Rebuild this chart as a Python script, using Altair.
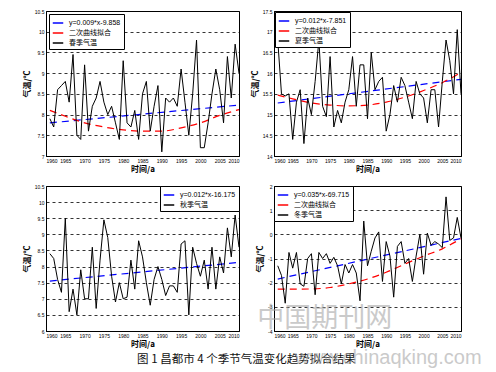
import altair as alt
import pandas as pd

FONT = "Liberation Sans, Noto Sans CJK SC, sans-serif"
CJK = "Noto Sans CJK SC, sans-serif"

years = list(range(1961, 2011))
x_ticks = list(range(1960, 2011, 5))

spring = [7.9, 7.7, 8.6, 8.7, 8.8, 8.3, 9.45, 7.5, 7.4, 9.2,
          7.6, 8.2, 8.4, 8.8, 8.3, 8.0, 8.2, 7.8, 7.4, 9.3,
          7.8, 7.7, 8.1, 7.4, 8.5, 8.8, 7.6, 8.2, 8.7, 7.1,
          8.4, 8.3, 8.4, 8.2, 9.1, 8.3, 7.5, 8.5, 9.8, 7.2,
          7.2, 7.8, 8.5, 9.1, 8.6, 7.8, 9.4, 8.4, 9.7, 9.0]
summer = [16.8, 15.5, 15.45, 15.5, 14.4, 15.3, 15.6, 14.3, 15.4, 15.0,
          15.8, 16.8, 15.2, 14.95, 16.4, 14.7, 15.1, 14.8, 15.3, 15.6,
          16.4, 15.2, 16.2, 16.2, 14.9, 16.5, 15.6, 15.8, 15.9, 14.6,
          15.0, 15.7, 15.3, 15.9, 15.7, 15.3, 14.9, 15.8, 15.5, 15.4,
          14.8, 15.6, 15.6, 14.7, 15.8, 16.8, 16.3, 15.5, 17.05, 15.5]
autumn = [8.4, 8.25, 7.6, 7.2, 9.5, 6.6, 7.3, 6.5, 7.9, 7.0,
          7.0, 8.6, 6.7, 8.2, 9.45, 8.9, 7.7, 6.9, 7.5, 7.0,
          7.05, 8.2, 7.3, 8.8, 8.3, 7.5, 6.8, 7.6, 8.0, 7.6,
          7.1, 7.4, 7.4, 7.2, 8.7, 8.8, 6.5, 8.6, 8.1, 7.7,
          8.2, 7.3, 8.6, 7.3, 8.3, 7.8, 9.2, 8.3, 9.6, 8.6]
winter = [-1.3, -1.7, -2.85, -0.75, -1.4, -0.75, -2.05, -2.15, -1.0, -0.8,
          -2.5, -0.75, -1.0, -0.8, -1.2, -0.95, -1.3, -2.05, -1.25, -1.6,
          -1.25, -1.6, -2.75, 0.55, -1.3, -0.7, -0.15, 0.1, -1.95, -0.3,
          -0.9, -2.6, -0.5, -0.3, -1.2, -1.0, -1.95, -0.9, 0.0, -1.65,
          0.05, -0.45, -0.3, -0.4, -0.55, 1.55, -0.25, -0.15, 0.7, -0.15]

trend_years = [1961, 2010]
spring_trend = [7.80, 8.23]
summer_trend = [15.28, 15.85]
autumn_trend = [7.55, 8.13]
winter_trend = [-1.85, -0.17]

quad_years = [1961, 1965, 1970, 1975, 1980, 1985, 1990, 1995, 2000, 2005, 2010]
spring_quad = [8.10, 7.96, 7.80, 7.70, 7.63, 7.60, 7.60, 7.68, 7.80, 7.98, 8.12]
summer_quad = [15.47, 15.38, 15.28, 15.23, 15.21, 15.23, 15.30, 15.42, 15.58, 15.77, 16.02]
winter_quad = [-2.27, -2.27, -2.26, -2.20, -2.05, -1.85, -1.57, -1.23, -0.90, -0.60, -0.18]

labels_spring = ["y=0.009*x-9.858", "二次曲线拟合", "春季气温"]
labels_summer = ["y=0.012*x-7.851", "二次曲线拟合", "夏季气温"]
labels_autumn = ["y=0.012*x-16.175", "秋季气温"]
labels_winter = ["y=0.035*x-69.715", "二次曲线拟合", "冬季气温"]

ticks_spring = [7, 7.5, 8, 8.5, 9, 9.5, 10, 10.5]
ticks_summer = [14, 14.5, 15, 15.5, 16, 16.5, 17, 17.5]
ticks_autumn = [6, 6.5, 7, 7.5, 8, 8.5, 9, 9.5, 10, 10.5]
ticks_winter = [-4, -3, -2, -1, 0, 1, 2]

caption = "图 1   昌都市 4 个季节气温变化趋势拟合结果"
wm_cn = "中国期刊网"
wm_url = "www.chinaqking.com"


def panel(obs, trend, quad, labels, yticks, orient, offset):
    has_quad = quad is not None
    colors = ["#0000ff"] + (["#ff0000"] if has_quad else []) + ["#000000"]
    legend = alt.Legend(
        title=None, orient=orient, offset=offset, symbolType="stroke",
        symbolStrokeWidth=1.3, symbolSize=110, symbolDash=[1, 0],
        labelFont=FONT, labelFontSize=7, labelColor="black", labelOffset=5,
        labelLimit=300, strokeColor="black", fillColor="white",
        padding=3, rowPadding=1, cornerRadius=0,
    )
    color = alt.Color("series:N",
                      scale=alt.Scale(domain=labels, range=colors),
                      legend=legend)
    x = alt.X("year:Q",
              scale=alt.Scale(domain=[1960, 2010], nice=False, zero=False),
              axis=alt.Axis(values=x_ticks, format="d", title="时间/a",
                            grid=False, ticks=False, labelPadding=2,
                            labelFontSize=5, labelFont=FONT,
                            titleFont=CJK, titleFontSize=8, titleFontWeight="bold",
                            titlePadding=2, domainColor="black", labelColor="black",
                            labelOverlap=False))
    y = alt.Y("value:Q",
              scale=alt.Scale(domain=[yticks[0], yticks[-1]], nice=False, zero=False),
              axis=alt.Axis(values=yticks, labelExpr="datum.value + ''",
                            title="气温/℃", grid=True, gridDash=[3, 3],
                            gridColor="black", gridWidth=0.8, gridOpacity=1,
                            ticks=False, labelPadding=2, labelFontSize=5,
                            labelFont=FONT, titleFont=CJK, titleFontSize=8,
                            titleFontWeight="bold", titlePadding=3,
                            domainColor="black", labelColor="black",
                            labelOverlap=False))
    tr = pd.DataFrame({"year": trend_years, "value": trend, "series": labels[0]})
    ob = pd.DataFrame({"year": years, "value": obs, "series": labels[-1]})
    layers = [alt.Chart(tr).mark_line(strokeDash=[7, 5], strokeWidth=1.2)
              .encode(x=x, y=y, color=color)]
    if has_quad:
        qd = pd.DataFrame({"year": quad_years, "value": quad, "series": labels[1]})
        layers.append(alt.Chart(qd).mark_line(strokeDash=[7, 5], strokeWidth=1.2,
                                              interpolate="monotone")
                      .encode(x=x, y=y, color=color))
    layers.append(alt.Chart(ob).mark_line(strokeWidth=1)
                  .encode(x=x, y=y, color=color))
    return layers, x, y


l1, x1, y1 = panel(spring, spring_trend, spring_quad, labels_spring,
                   ticks_spring, "top-left", 3)
l2, x2, y2 = panel(summer, summer_trend, summer_quad, labels_summer,
                   ticks_summer, "top-left", 1)
l3, x3, y3 = panel(autumn, autumn_trend, None, labels_autumn,
                   ticks_autumn, "top-right", 0)
l4, x4, y4 = panel(winter, winter_trend, winter_quad, labels_winter,
                   ticks_winter, "top-left", 0)

# caption placed under the bottom-left panel
cap_df = pd.DataFrame({"year": [1983.6], "value": [5.1], "label": [caption]})
l3.append(alt.Chart(cap_df).mark_text(align="left", baseline="middle",
                                      font=CJK, fontSize=11.5, color="#111111")
          .encode(x=x3, y=y3, text="label:N"))

# watermarks over the bottom-right panel
wm_df = pd.DataFrame({"year": [1973.6], "value": [-3.5], "label": [wm_cn]})
l4.append(alt.Chart(wm_df).mark_text(align="center", baseline="middle",
                                     font=CJK, fontSize=27, color="#a0a0a0",
                                     opacity=0.55)
          .encode(x=x4, y=y4, text="label:N"))
url_df = pd.DataFrame({"year": [2015.5], "value": [-5.12], "label": [wm_url]})
l4.append(alt.Chart(url_df).mark_text(align="right", baseline="middle",
                                      font="Liberation Sans, sans-serif",
                                      fontSize=20, color="#a0a0a0", opacity=0.55)
          .encode(x=x4, y=y4, text="label:N"))

p1 = alt.layer(*l1).properties(width=193, height=145)
p2 = alt.layer(*l2).properties(width=187, height=145)
p3 = alt.layer(*l3).properties(width=193, height=145)
p4 = alt.layer(*l4).properties(width=187, height=145)

chart = (
    alt.concat(p1, p2, p3, p4, columns=2, spacing={"row": 30, "column": 35},
               bounds="flush")
    .resolve_scale(color="independent", x="independent", y="independent")
    .properties(padding={"left": 14, "top": 0, "right": 0, "bottom": 0},
                background="white")
    .configure_view(stroke="black", strokeWidth=1)
)

chart.save("out.html", embed_options={"renderer": "svg", "actions": False})
